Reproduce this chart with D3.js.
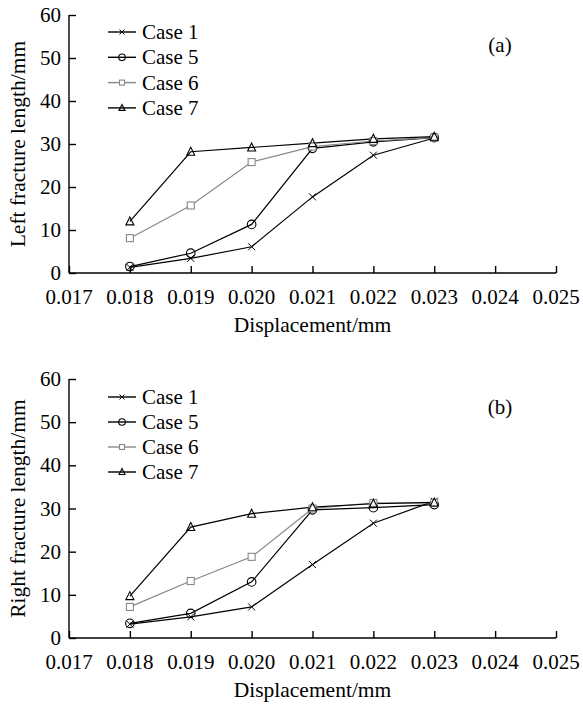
<!DOCTYPE html>
<html><head><meta charset="utf-8">
<script src="https://cdn.jsdelivr.net/npm/d3@7/dist/d3.min.js"></script>
<style>body{margin:0;background:#fff}svg{display:block}</style>
</head><body>
<svg id="c" width="583" height="706" font-family="'Liberation Serif', Tinos, 'Times New Roman', serif"></svg>
<script>
const displacement = [0.018, 0.019, 0.020, 0.021, 0.022, 0.023];
const xTicks = [0.017, 0.018, 0.019, 0.020, 0.021, 0.022, 0.023, 0.024, 0.025];
const yTicks = [0, 10, 20, 30, 40, 50, 60];
const caseNames = ["Case 1", "Case 5", "Case 6", "Case 7"];
const leftCase1 = [1.3, 3.4, 6.1, 17.7, 27.4, 31.4];
const leftCase5 = [1.5, 4.6, 11.3, 29.0, 30.5, 31.5];
const leftCase6 = [8.1, 15.7, 25.8, 29.4, 30.7, 31.5];
const leftCase7 = [12.0, 28.2, 29.2, 30.2, 31.2, 31.7];
const rightCase1 = [3.2, 4.9, 7.2, 17.0, 26.6, 31.7];
const rightCase5 = [3.4, 5.7, 13.0, 29.7, 30.2, 30.9];
const rightCase6 = [7.2, 13.2, 18.8, 30.0, 31.3, 31.3];
const rightCase7 = [9.7, 25.7, 28.8, 30.3, 31.1, 31.4];

const styles = [
  {color:"#000", marker:"x"},
  {color:"#000", marker:"circle"},
  {color:"#888", marker:"square"},
  {color:"#000", marker:"triangle"}
];

const svg = d3.select("#c");
const x = d3.scaleLinear().domain([0.017, 0.025]).range([69, 556]);

function marker(g, type, cx, cy, color, s) {
  if (type === "x") {
    g.append("path").attr("d", `M${cx-s},${cy-s}L${cx+s},${cy+s}M${cx-s},${cy+s}L${cx+s},${cy-s}`)
      .attr("stroke", color).attr("stroke-width", 1).attr("fill", "none");
  } else if (type === "circle") {
    g.append("circle").attr("cx", cx).attr("cy", cy).attr("r", s+0.8)
      .attr("stroke", color).attr("stroke-width", 1.1).attr("fill", "none");
  } else if (type === "square") {
    g.append("rect").attr("x", cx-s).attr("y", cy-s).attr("width", 2*s).attr("height", 2*s)
      .attr("stroke", color).attr("stroke-width", 1.1).attr("fill", "#fff");
  } else {
    g.append("path").attr("d", `M${cx},${cy-s-1}L${cx+s+0.5},${cy+s}L${cx-s-0.5},${cy+s}Z`)
      .attr("stroke", color).attr("stroke-width", 1.1).attr("fill", "none");
  }
}

function panel(opts) {
  const y = d3.scaleLinear().domain([0, 60]).range([opts.y0, opts.y60]);
  const g = svg.append("g");
  const ax = g.append("g").attr("transform", `translate(0,${opts.y0})`)
    .call(d3.axisTop(x).tickValues(xTicks).tickSize(7).tickFormat(""));
  ax.select(".domain").attr("d", `M${x.range()[0]},0H${x.range()[1]}`);
  const ay = g.append("g").attr("transform", `translate(${x.range()[0]},0)`)
    .call(d3.axisRight(y).tickValues(yTicks).tickSize(7).tickFormat(""));
  ay.select(".domain").attr("d", `M0,${opts.y60}V${opts.y0}`);
  g.selectAll(".domain, .tick line").attr("stroke", "#000").attr("stroke-width", 1.4);

  g.selectAll(".xl").data(xTicks).enter().append("text")
    .attr("x", d => x(d)).attr("y", opts.y0 + 31).attr("text-anchor", "middle")
    .attr("font-size", 21).text(d => d.toFixed(3));
  g.selectAll(".yl").data(yTicks).enter().append("text")
    .attr("x", x.range()[0] - 8).attr("y", d => y(d) + 7).attr("text-anchor", "end")
    .attr("font-size", 21).text(d => d);
  g.append("text").attr("x", (x(0.017)+x(0.025))/2).attr("y", opts.y0 + 59)
    .attr("text-anchor", "middle").attr("font-size", 21.5).text("Displacement/mm");
  g.append("text").attr("transform", `translate(25,${(opts.y0+opts.y60)/2}) rotate(-90)`)
    .attr("text-anchor", "middle").attr("font-size", 21.5).text(opts.ytitle);
  g.append("text").attr("x", 500).attr("y", opts.labelY).attr("text-anchor", "middle")
    .attr("font-size", 21).text(opts.label);

  const line = d3.line().x((d, i) => x(displacement[i])).y(d => y(d));
  opts.series.forEach((s, k) => {
    const st = styles[k];
    g.append("path").datum(s).attr("d", line).attr("fill", "none")
      .attr("stroke", st.color).attr("stroke-width", 1.2);
  });
  opts.series.forEach((s, k) => {
    const st = styles[k];
    s.forEach((v, i) => marker(g, st.marker, x(displacement[i]), y(v), st.color, 3.5));
  });
  caseNames.forEach((name, k) => {
    const st = styles[k];
    const ly = opts.legY + k * opts.legStep;
    g.append("line").attr("x1", 108).attr("x2", 136).attr("y1", ly).attr("y2", ly)
      .attr("stroke", st.color).attr("stroke-width", 1.4);
    marker(g, st.marker, 122, ly, st.color, 2.5);
    g.append("text").attr("x", 142).attr("y", ly + 7).attr("font-size", 21).text(name);
  });
}

panel({y0: 273, y60: 15, ytitle: "Left fracture length/mm", label: "(a)", labelY: 52,
  legY: 32, legStep: 25.3, series: [leftCase1, leftCase5, leftCase6, leftCase7]});
panel({y0: 638, y60: 379, ytitle: "Right fracture length/mm", label: "(b)", labelY: 414,
  legY: 397, legStep: 25, series: [rightCase1, rightCase5, rightCase6, rightCase7]});
</script>
</body></html>
